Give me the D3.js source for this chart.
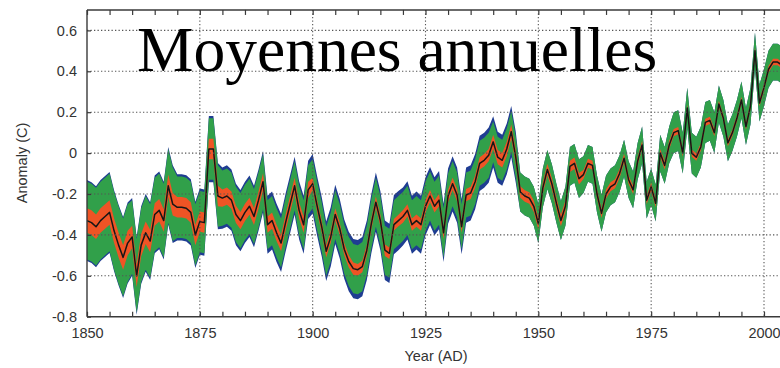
<!DOCTYPE html>
<html>
<head>
<meta charset="utf-8">
<script src="https://cdn.jsdelivr.net/npm/d3@7"></script>
<style>
  html, body { margin: 0; padding: 0; background: #fff; }
  svg { display: block; }
</style>
</head>
<body>
<svg id="chart" width="780" height="368"></svg>
<script>
// Annual global temperature anomaly (°C), one value per year from 1850
const firstYear = 1850;
const anomaly = [
  -0.33, -0.34, -0.36, -0.33, -0.31, -0.29, -0.38, -0.45, -0.51, -0.44, // 1850s
  -0.41, -0.60, -0.45, -0.39, -0.43, -0.30, -0.28, -0.33, -0.16, -0.25, // 1860s
  -0.265, -0.265, -0.27, -0.29, -0.40, -0.335, -0.34, 0.02, 0.02, -0.21, // 1870s
  -0.22, -0.21, -0.23, -0.30, -0.33, -0.29, -0.26, -0.31, -0.23, -0.14, // 1880s
  -0.35, -0.33, -0.39, -0.44, -0.34, -0.25, -0.16, -0.28, -0.35, -0.18, // 1890s
  -0.15, -0.26, -0.36, -0.48, -0.41, -0.30, -0.37, -0.47, -0.53, -0.565, // 1900s
  -0.57, -0.555, -0.475, -0.345, -0.24, -0.33, -0.475, -0.49, -0.35, -0.33, // 1910s
  -0.31, -0.28, -0.35, -0.33, -0.35, -0.26, -0.21, -0.26, -0.23, -0.39, // 1920s
  -0.21, -0.15, -0.205, -0.36, -0.205, -0.195, -0.14, -0.05, -0.035, -0.01, // 1930s
  0.055, -0.02, -0.035, 0.02, 0.105, -0.02, -0.19, -0.21, -0.22, -0.26, // 1940s
  -0.345, -0.17, -0.08, -0.15, -0.245, -0.33, -0.26, -0.065, -0.05, -0.125, // 1950s
  -0.105, -0.05, -0.06, -0.20, -0.295, -0.20, -0.165, -0.15, -0.10, -0.025, // 1960s
  -0.13, -0.18, -0.04, 0.04, -0.23, -0.165, -0.245, 0.00, -0.06, 0.04, // 1970s
  0.10, 0.11, 0.00, 0.22, 0.00, -0.02, 0.03, 0.15, 0.16, 0.10, // 1980s
  0.24, 0.17, 0.05, 0.10, 0.17, 0.26, 0.13, 0.23, 0.50, 0.245, // 1990s
  0.32, 0.41, 0.445, 0.445, 0.43 // 2000s
];

// Uncertainty half-widths (°C) by period
const periodStart = [1850, 1860, 1870, 1880, 1890, 1900, 1910, 1920, 1930, 1940, 1946, 1960, 1970, 1980, 1990, 2000];
const redHalf     = [0.06, 0.055, 0.05, 0.042, 0.04, 0.03, 0.028, 0.03, 0.03, 0.035, 0.028, 0.022, 0.02, 0.018, 0.016, 0.016];
const greenHalf   = [0.19, 0.18, 0.15, 0.135, 0.12, 0.12, 0.12, 0.12, 0.11, 0.10, 0.095, 0.09, 0.09, 0.10, 0.09, 0.09];
const blueExtra   = [0.008, 0.01, 0.012, 0.015, 0.022, 0.025, 0.025, 0.022, 0.025, 0.025, 0, 0, 0, 0, 0, 0];

const yearTicks = [1850, 1875, 1900, 1925, 1950, 1975, 2000];
const anomalyTicks = [-0.8, -0.6, -0.4, -0.2, 0, 0.2, 0.4, 0.6];
const titleText = "Moyennes annuelles";
const xTitle = "Year (AD)";
const yTitle = "Anomaly (C)";

const colors = { blue: "#1f3d92", green: "#31a04a", red: "#ef5425", line: "#161616", axis: "#3a3a3a", grid: "#555" };

const W = 780, H = 368;
const svg = d3.select("#chart");
svg.append("rect").attr("width", W).attr("height", H).attr("fill", "#fff");

const x = d3.scaleLinear().domain([1850, 2000]).range([87, 764]);
const y = d3.scaleLinear().domain([-0.8, 0.6]).range([316.7, 30.4]);
const yTop = 0.7;
const plotLeft = x(1850), plotBottom = y(-0.8), plotTop = y(yTop);

const rows = anomaly.map((v, i) => {
  const year = firstYear + i;
  const p = d3.bisectRight(periodStart, year) - 1;
  return { year, v, r: redHalf[p], g: greenHalf[p], b: blueExtra[p] };
});

svg.append("defs").append("clipPath").attr("id", "plotClip")
  .append("rect").attr("x", plotLeft).attr("y", plotTop)
  .attr("width", W - plotLeft).attr("height", plotBottom - plotTop);

const plot = svg.append("g").attr("clip-path", "url(#plotClip)");

const band = (lo, hi) => d3.area().x(d => x(d.year)).y0(d => y(lo(d))).y1(d => y(hi(d)));

plot.append("path").datum(rows).attr("fill", colors.blue)
  .attr("d", band(d => d.v - d.g - d.b, d => d.v + d.g + d.b));
plot.append("path").datum(rows).attr("fill", colors.green)
  .attr("d", band(d => d.v - d.g, d => d.v + d.g));
plot.append("path").datum(rows).attr("fill", colors.red)
  .attr("d", band(d => d.v - d.r, d => d.v + d.r));

// dotted grid
const grid = svg.append("g").attr("stroke", colors.grid).attr("stroke-width", 1.1)
  .attr("stroke-dasharray", "1.3,2.2").attr("fill", "none");
anomalyTicks.filter(t => t > -0.8).forEach(t => {
  grid.append("line").attr("x1", plotLeft).attr("x2", W).attr("y1", y(t)).attr("y2", y(t));
});
yearTicks.filter(t => t > 1850).forEach(t => {
  grid.append("line").attr("x1", x(t)).attr("x2", x(t)).attr("y1", plotTop).attr("y2", plotBottom);
});

plot.append("path").datum(rows).attr("fill", "none").attr("stroke", colors.line)
  .attr("stroke-width", 1.5).attr("stroke-linejoin", "round")
  .attr("d", d3.line().x(d => x(d.year)).y(d => y(d.v)));

// axes
const minorYears = d3.range(1850, 2011, 5);
const xAxis = d3.axisBottom(x).tickValues(minorYears).tickSizeInner(-5).tickSizeOuter(0)
  .tickPadding(11).tickFormat(d => yearTicks.includes(d) ? String(d) : "");
const gx = svg.append("g").attr("transform", `translate(0,${plotBottom})`).call(xAxis);

const xTop = d3.axisTop(x).tickValues(minorYears).tickSizeInner(-5).tickSizeOuter(0).tickFormat("");
const gt = svg.append("g").attr("transform", `translate(0,${plotTop})`).call(xTop);

const yAxis = d3.axisLeft(y).tickValues(anomalyTicks).tickSizeInner(-4).tickSizeOuter(0)
  .tickPadding(10).tickFormat(d => d === 0 ? "0" : d.toFixed(1));
const gy = svg.append("g").attr("transform", `translate(${plotLeft},0)`).call(yAxis);
gy.select(".domain").attr("d", `M0,${plotTop}V${plotBottom}`);

[gx, gt, gy].forEach(g => {
  g.select(".domain").attr("stroke", colors.axis).attr("stroke-width", 1.4);
  g.selectAll(".tick line").attr("stroke", colors.axis).attr("stroke-width", 1.2);
  g.selectAll("text").attr("fill", "#333").attr("font-family", "Liberation Sans, Arial, sans-serif")
    .attr("font-size", 14.5);
});
gx.select(".domain").attr("d", `M${plotLeft},0H${W}`);
gt.select(".domain").attr("d", `M${plotLeft},0H${W}`);

svg.append("text").attr("x", 436).attr("y", 361).attr("text-anchor", "middle")
  .attr("font-family", "Liberation Sans, Arial, sans-serif").attr("font-size", 14.5)
  .attr("fill", "#333").text(xTitle);
svg.append("text").attr("transform", "translate(27,163) rotate(-90)").attr("text-anchor", "middle")
  .attr("font-family", "Liberation Sans, Arial, sans-serif").attr("font-size", 14.5)
  .attr("fill", "#333").text(yTitle);

svg.append("text").attr("x", 137).attr("y", 71)
  .attr("font-family", "Liberation Serif, Times New Roman, serif").attr("font-size", 63.5)
  .attr("fill", "#000").text(titleText);
</script>
</body>
</html>
